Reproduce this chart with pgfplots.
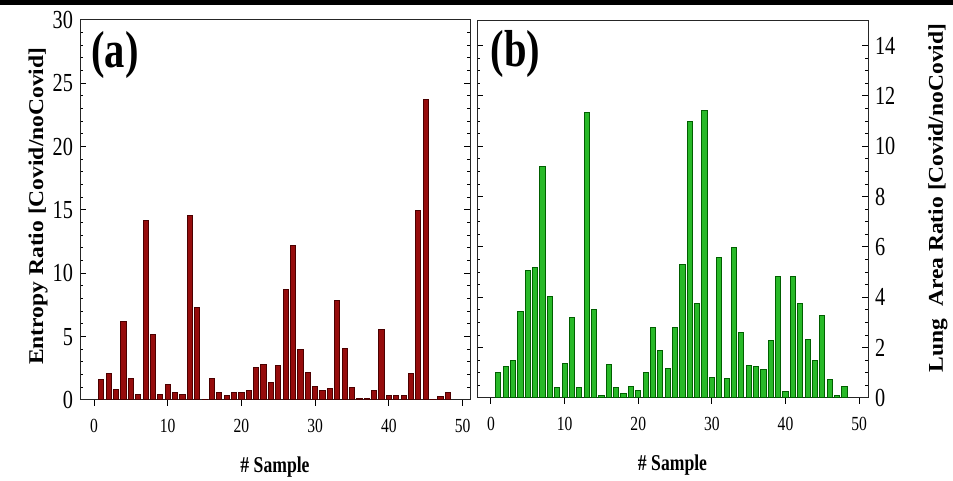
\documentclass[border=0pt]{standalone}
\usepackage{fontspec}
\setmainfont{Liberation Serif}
\newfontfamily\narrowfont{Liberation Serif}[FakeStretch=0.78]
\newfontfamily\widefont{Liberation Serif}[FakeStretch=1.12]
\usepackage{pgfplots}
\pgfplotsset{compat=1.18}

\definecolor{barred}{RGB}{150,12,12}
\definecolor{edgered}{RGB}{75,0,0}
\definecolor{bargreen}{RGB}{40,185,40}
\definecolor{edgegreen}{RGB}{0,95,0}

% entropy ratio per sample
\pgfplotstableread{
x y
1 1.63
2 2.1
3 0.84
4 6.23
5 1.71
6 0.47
7 14.2
8 5.21
9 0.47
10 1.26
11 0.58
12 0.47
13 14.6
14 7.3
15 0.05
16 1.71
17 0.58
18 0.32
19 0.58
20 0.58
21 0.74
22 2.55
23 2.81
24 1.35
25 2.7
26 8.76
27 12.18
28 4.0
29 2.18
30 1.1
31 0.74
32 0.92
33 7.84
34 4.08
35 1.0
36 0.13
37 0.13
38 0.74
39 5.6
40 0.39
41 0.32
42 0.39
43 2.1
44 14.95
45 23.7
46 0.05
47 0.26
48 0.58
}\entropy

% lung area ratio per sample
\pgfplotstableread{
x y
1 1.0
2 1.25
3 1.49
4 3.44
5 5.07
6 5.2
7 9.2
8 4.03
9 0.43
10 1.38
11 3.18
12 0.41
13 11.34
14 3.5
15 0.1
16 1.33
17 0.43
18 0.17
19 0.47
20 0.3
21 1.03
22 2.8
23 1.89
24 1.16
25 2.8
26 5.31
27 10.98
28 3.76
29 11.44
30 0.83
31 5.57
32 0.79
33 5.97
34 2.61
35 1.29
36 1.25
37 1.12
38 2.28
39 4.81
40 0.26
41 4.81
42 3.76
43 2.32
44 1.49
45 3.27
46 0.74
47 0.1
48 0.47
}\lungarea

\pgfplotsset{
  panel/.style={
    scale only axis,
    anchor=south west,
    xmin=-1.9, xmax=51, ymin=0,
    xtick={0,10,...,50},
    xtick pos=left,
    tick align=inside,
    xtick align=outside,
    major tick length=3pt,
    minor tick length=1.5pt,
    tick style={black, line width=0.5pt},
    axis line style={black!85, line width=0.5pt},
    /pgf/number format/assume math mode=true,
    xticklabel style={font=\narrowfont\fontsize{10}{10}\selectfont, yshift=-3pt},
    yticklabel style={font=\narrowfont\fontsize{13}{13}\selectfont},
    every axis x label/.style={at={(axis description cs:0.5,0)}, anchor=center, yshift=-33.5pt,
      font=\narrowfont\bfseries\fontsize{11.3}{12}\selectfont},
    ybar, bar width=0.7,
  }
}

\begin{document}
\begin{tikzpicture}
\path[use as bounding box] (0pt,0pt) rectangle (476.5pt,240.5pt);
\draw[line width=2.5pt] (0pt,239pt) -- (476.5pt,239pt);

\begin{axis}[panel,
  at={(40pt,40.5pt)}, width=195pt, height=190pt,
  ymax=30, ytick={0,5,...,30}, minor y tick num=4,
  xlabel={\# Sample},
  ylabel={Entropy Ratio [Covid/noCovid]},
  every axis y label/.style={at={(axis description cs:0,0.51)}, anchor=center,
    xshift=-21pt, rotate=90, font=\widefont\bfseries\fontsize{10.5}{12}\selectfont},
]
\addplot[fill=barred, draw=edgered, line width=0.5pt] table[x=x,y=y] {\entropy};
\node[font=\narrowfont\bfseries\fontsize{26}{26}\selectfont] at (rel axis cs:0.09,0.908) {(a)};
\end{axis}

\begin{axis}[panel,
  at={(238.5pt,41.5pt)}, width=195.5pt, height=188.75pt,
  xmax=51.2,
  ymax=15, ytick={0,2,...,14}, minor y tick num=3,
  yticklabel pos=right,
  xlabel={\# Sample},
  ylabel={Lung\ \ Area Ratio [Covid/noCovid]},
  every axis y label/.style={at={(axis description cs:1,0.53)}, anchor=center,
    xshift=35pt, rotate=90, font=\widefont\bfseries\fontsize{10.5}{12}\selectfont},
]
\addplot[fill=bargreen, draw=edgegreen, line width=0.5pt] table[x=x,y=y] {\lungarea};
\node[font=\narrowfont\bfseries\fontsize{26}{26}\selectfont] at (rel axis cs:0.098,0.91) {(b)};
\end{axis}
\end{tikzpicture}
\end{document}
